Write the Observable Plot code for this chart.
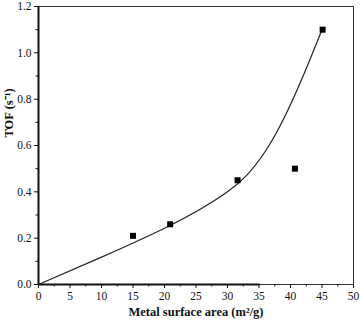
<!DOCTYPE html>
<html>
<head>
<meta charset="utf-8">
<script src="https://cdn.jsdelivr.net/npm/d3@7"></script>
<script src="https://cdn.jsdelivr.net/npm/@observablehq/plot@0.6"></script>
<style>
  html, body { margin: 0; padding: 0; background: #fff; }
  #chart svg { display: block; }
</style>
</head>
<body>
<div id="chart"></div>
<script>
// Measured points
const surfaceArea = [15, 20.9, 31.6, 40.7, 45.1];
const tof = [0.21, 0.26, 0.45, 0.50, 1.10];

// Fitted curve
const fitX = [0, 10, 20, 26, 30, 33, 36, 39, 42, 45];
const fitY = [0, 0.118, 0.243, 0.33, 0.40, 0.47, 0.575, 0.72, 0.90, 1.10];

// Dark baseline artifact along y = 0
const baseX = [0, 35];
const baseY = [0, 0];

// Ticks
const xTicks = [0, 5, 10, 15, 20, 25, 30, 35, 40, 45, 50];
const xMinor = [2.5, 7.5, 12.5, 17.5, 22.5, 27.5, 32.5, 37.5, 42.5, 47.5];
const yTicks = [0, 0.2, 0.4, 0.6, 0.8, 1.0, 1.2];
const yMinor = [0.1, 0.3, 0.5, 0.7, 0.9, 1.1];

const xTitle = "Metal surface area (m²/g)";
const yTitle = "TOF (s⁻¹)";

const points = surfaceArea.map((x, i) => ({x, y: tof[i]}));
const fit = fitX.map((x, i) => ({x, y: fitY[i]}));
const base = baseX.map((x, i) => ({x, y: baseY[i]}));

const serif = "'Liberation Serif', 'Times New Roman', serif";

const chart = Plot.plot({
  width: 361,
  height: 321,
  marginLeft: 38,
  marginRight: 8,
  marginTop: 6,
  marginBottom: 37,
  style: {fontFamily: serif, fontSize: "11px", color: "#111", background: "#fff"},
  x: {domain: [0, 50]},
  y: {domain: [0, 1.2]},
  marks: [
    Plot.frame({stroke: "#333", strokeWidth: 1}),
    Plot.ruleX([0], {stroke: "#111", strokeWidth: 2}),
    Plot.line(base, {x: "x", y: "y", stroke: "#111", strokeWidth: 2}),
    Plot.axisX({ticks: xTicks, tickSize: 4, tickPadding: 3, tickFormat: d => String(d), label: null, fontSize: 11.5, fontFamily: serif, stroke: "#111"}),
    Plot.axisX({ticks: xMinor, tickSize: 2.5, tickFormat: () => "", label: null, stroke: "#111"}),
    Plot.axisY({ticks: yTicks, tickSize: 4, tickPadding: 3, tickFormat: d3.format(".1f"), label: null, fontSize: 11.5, fontFamily: serif, stroke: "#111"}),
    Plot.axisY({ticks: yMinor, tickSize: 2.5, tickFormat: () => "", label: null, stroke: "#111"}),
    Plot.line(fit, {x: "x", y: "y", curve: "natural", stroke: "#222", strokeWidth: 1.2}),
    Plot.dot(points, {x: "x", y: "y", symbol: "square", r: 3.4, fill: "#000", stroke: "none"}),
    Plot.text([xTitle], {frameAnchor: "bottom", dy: 31, text: d => d, fontWeight: "bold", fontSize: 12.5, fontFamily: serif, fill: "#111"}),
    Plot.text([yTitle], {frameAnchor: "left", dx: -30, dy: -8, rotate: -90, text: d => d, fontWeight: "bold", fontSize: 12.5, fontFamily: serif, fill: "#111"})
  ]
});
document.getElementById("chart").appendChild(chart);
</script>
</body>
</html>
